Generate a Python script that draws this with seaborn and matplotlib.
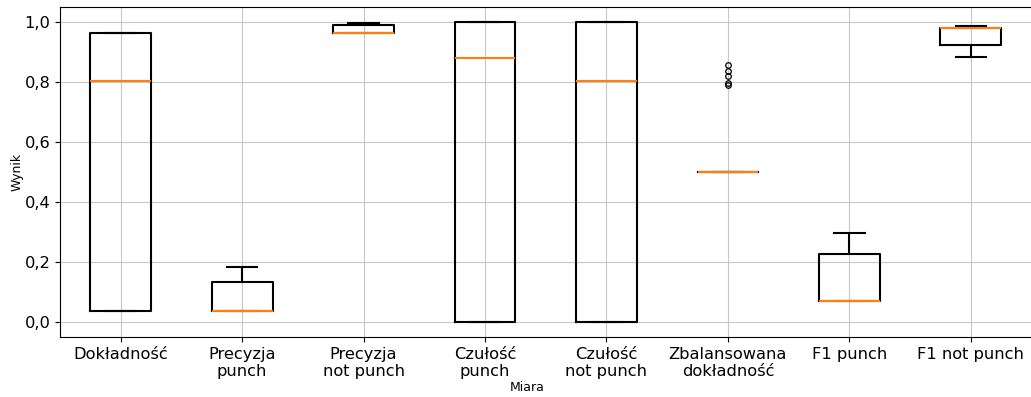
import matplotlib
matplotlib.use("Agg")
import matplotlib.pyplot as plt
from matplotlib.ticker import FuncFormatter
import pandas as pd
import seaborn as sns

# Measures shown on the x axis
categories = [
    "Dokładność",
    "Precyzja\npunch",
    "Precyzja\nnot punch",
    "Czułość\npunch",
    "Czułość\nnot punch",
    "Zbalansowana\ndokładność",
    "F1 punch",
    "F1 not punch",
]

# Scores obtained by the models for each measure
dokladnosc = [0.036, 0.036, 0.803, 0.963, 0.963]
precyzja_punch = [0.036, 0.036, 0.036, 0.133, 0.183]
precyzja_not_punch = [0.963, 0.963, 0.963, 0.991, 0.995]
czulosc_punch = [0.0, 0.0, 0.880, 1.0, 1.0]
czulosc_not_punch = [0.0, 0.0, 0.803, 1.0, 1.0]
zbalansowana = [0.5, 0.5, 0.5, 0.5, 0.5, 0.5, 0.5, 0.5, 0.5, 0.5,
                0.5, 0.5, 0.5, 0.5, 0.5, 0.5, 0.5, 0.5, 0.5, 0.5,
                0.79, 0.795, 0.82, 0.835, 0.855]
f1_punch = [0.069, 0.069, 0.069, 0.228, 0.297]
f1_not_punch = [0.884, 0.923, 0.981, 0.981, 0.985]

series = [dokladnosc, precyzja_punch, precyzja_not_punch, czulosc_punch,
          czulosc_not_punch, zbalansowana, f1_punch, f1_not_punch]

rows = []
for name, values in zip(categories, series):
    for v in values:
        rows.append({"Miara": name, "Wynik": v})
df = pd.DataFrame(rows)

W, H = 1031, 397
fig = plt.figure(figsize=(W / 100, H / 100), dpi=100)
ax = fig.add_axes([60 / W, 60 / H, 971.5 / W, 330 / H])

sns.boxplot(
    data=df, x="Miara", y="Wynik", order=categories, ax=ax,
    width=0.5, fill=False, color="black", linecolor="black", linewidth=1.5,
    whis=1.5,
    medianprops={"color": "#ff7f0e", "linewidth": 1.5},
    flierprops={"marker": "o", "markersize": 4, "markerfacecolor": "none",
                "markeredgecolor": "black", "markeredgewidth": 0.9},
)

ax.set_xlim(-0.5, 7.5)
ax.set_ylim(-0.05, 1.05)
ax.set_yticks([0.0, 0.2, 0.4, 0.6, 0.8, 1.0])
ax.yaxis.set_major_formatter(FuncFormatter(lambda v, p: f"{v:.1f}".replace(".", ",")))
ax.grid(True, color="#c8c8c8", linewidth=0.8)
ax.set_axisbelow(True)
ax.tick_params(axis="both", labelsize=11.7)

ax.set_xlabel("Miara", fontsize=9)
ax.set_ylabel("Wynik", fontsize=9)
ax.xaxis.set_label_coords((527 - 60) / 971.5, -0.133)
ax.yaxis.set_label_coords(-0.038, 0.5)

fig.savefig("out.png", dpi=100)
